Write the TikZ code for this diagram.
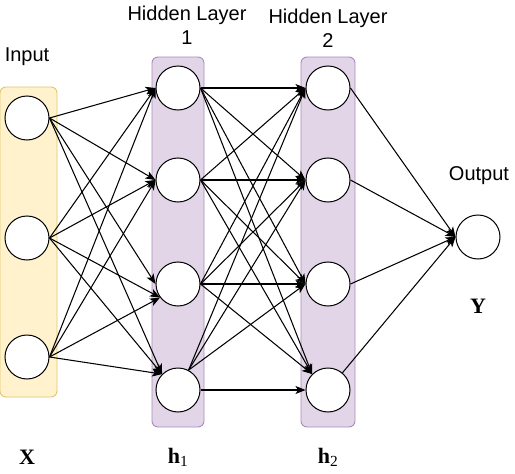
\documentclass[tikz,border=0pt]{standalone}
\usepackage{fontspec}
\setmainfont{Liberation Serif}
\newfontfamily\labfont{Liberation Sans}
\usetikzlibrary{arrows.meta}
\definecolor{yfill}{HTML}{FFF2CC}
\definecolor{ystroke}{HTML}{E3C46E}
\definecolor{pfill}{HTML}{E1D5E7}
\definecolor{pstroke}{HTML}{A98BBB}
\begin{document}
\begin{tikzpicture}[x=1pt,y=-1pt,
  neuron/.style={circle,draw=black,fill=white,minimum size=44pt,inner sep=0pt,line width=1pt},
  inlayer/.style={draw=ystroke,fill=yfill,rounded corners=6pt,line width=0.9pt,minimum width=#1,inner sep=0pt},
  hidlayer/.style={draw=pstroke,fill=pfill,rounded corners=6pt,line width=0.9pt,minimum width=#1,inner sep=0pt},
  conn/.style={line width=1.05pt,-{Stealth[length=10pt,width=8pt,inset=2.5pt]}},
  lab/.style={font=\labfont\fontsize{20}{24}\selectfont,align=center,inner sep=0pt},
  var/.style={font=\fontsize{22}{26}\selectfont\bfseries,inner sep=0pt}
]
\useasboundingbox (0,0) rectangle (515,474);

% layer boxes
\node[inlayer=57pt,minimum height=310pt] (LX) at (28.5,242) {};
\node[hidlayer=52pt,minimum height=370pt] (L1) at (178,242) {};
\node[hidlayer=54pt,minimum height=370pt] (L2) at (328,242) {};

% neurons
\node[neuron] (x1) at (27,118) {};
\node[neuron] (x2) at (27,238) {};
\node[neuron] (x3) at (27,357) {};

\node[neuron] (a1) at (178,88) {};
\node[neuron] (a2) at (178,180) {};
\node[neuron] (a3) at (178,284) {};
\node[neuron] (a4) at (178,390) {};

\node[neuron] (b1) at (328,88) {};
\node[neuron] (b2) at (328,180) {};
\node[neuron] (b3) at (328,284) {};
\node[neuron] (b4) at (328,390) {};

\node[neuron] (y) at (478,237) {};

% input -> hidden 1
\foreach \i in {1,2,3}{
  \draw[conn] (x\i.east) -- (a1.west);
  \draw[conn] (x\i.east) -- (a2.west);
  \draw[conn] (x\i.east) -- (a4.135);
}
\draw[conn] (x1.east) -- (a3.west);
\draw[conn] (x2.east) -- (a3.217);
\draw[conn] (x3.east) -- (a3.217);

% hidden 1 -> hidden 2
\foreach \i in {1,2,3}{
  \foreach \j in {1,2,3}
    \draw[conn] (a\i.east) -- (b\j.west);
  \draw[conn] (a\i.east) -- (b4.135);
}
\foreach \j in {1,2,3}
  \draw[conn] (a4.62) -- (b\j.west);
\draw[conn] (a4.east) -- (b4.west);

% hidden 2 -> output
\foreach \i in {1,2,3}
  \draw[conn] (b\i.east) -- (y.west);
\draw[conn] (b4.50) -- (y.west);

% labels
\node[lab] (tin) at (27,57) {Input};
\node[lab] (th1) at (187,25) {Hidden Layer\\1};
\node[lab] (th2) at (328,28) {Hidden Layer\\2};
\node[lab] (tout) at (479,176) {Output};

\node[var] (vx) at (27,457) {X};
\node[var] (vh1) at (178,457) {h\textsubscript{\mdseries 1}};
\node[var] (vh2) at (328,457) {h\textsubscript{\mdseries 2}};
\node[var] (vy) at (478,306) {Y};
\end{tikzpicture}
\end{document}
